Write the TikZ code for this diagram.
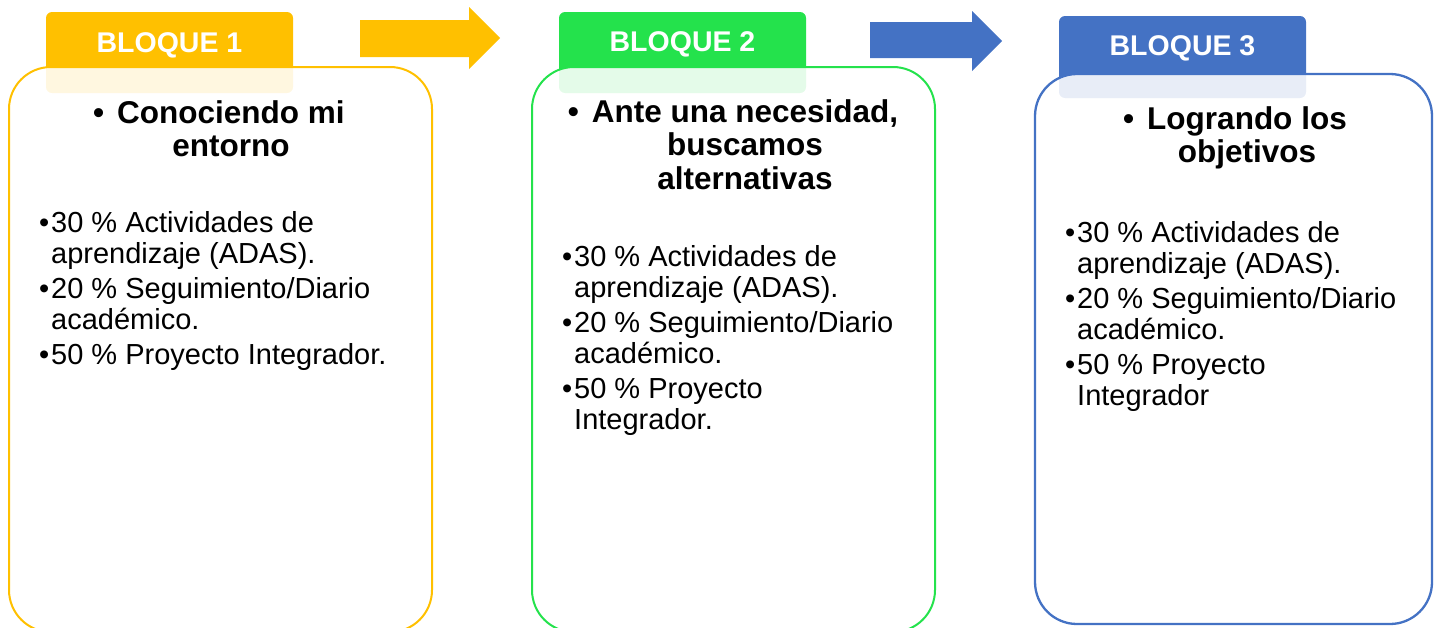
\documentclass[tikz,border=0pt]{standalone}
\usepackage{fontspec}
\setmainfont{Liberation Sans}
\usepackage{xcolor}
\definecolor{amarillo}{HTML}{FFC000}
\definecolor{verde}{HTML}{24E24C}
\definecolor{azul}{HTML}{4472C4}
\tikzset{
	pestana/.style={
		rounded corners=6pt
	},
	caja/.style={
		line width=2pt,
		rounded corners=42pt,
		fill=white,
		fill opacity=0.88
	},
	titulo/.style={anchor=base,text=white,inner sep=0,font=\fontsize{28.5}{30}\selectfont\bfseries},
	tema/.style={anchor=north,align=center,inner sep=0,font=\fontsize{31.5}{33.5}\selectfont\bfseries},
	lista/.style={anchor=north west,align=left,inner sep=0,font=\fontsize{29}{31}\selectfont}
}
\newcommand{\vineta}{\llap{\textbullet\hspace{2pt}}}
\newcommand{\vinetatema}{\llap{\textbullet\hspace{13pt}}}

\begin{document}
\begin{tikzpicture}[x=1pt,y=-1pt]
	\clip (0,0) rectangle (1437,627);

	% pestanas
	\fill[pestana,amarillo] (46,12) rectangle (293,93);
	\fill[pestana,verde] (559,12) rectangle (806,93);
	\fill[pestana,azul] (1059,16) rectangle (1306,98);

	% cajas
	\draw[caja,draw=amarillo] (9,67) rectangle (432,632);
	\draw[caja,draw=verde] (532,67) rectangle (935,632);
	\draw[caja,draw=azul,line width=2.3pt] (1035,74) rectangle (1432,624);

	% flechas
	\fill[amarillo] (360,20) -- (469,20) -- (469,7) -- (500,38) -- (469,69) -- (469,57) -- (360,57) -- cycle;
	\fill[azul] (870,22) -- (972,22) -- (972,11) -- (1002,41) -- (972,71) -- (972,58) -- (870,58) -- cycle;

	\node[titulo] (bloque1) at (169.5,52) {BLOQUE 1};
	\node[titulo] (bloque2) at (682.5,51) {BLOQUE 2};
	\node[titulo] (bloque3) at (1182.5,55) {BLOQUE 3};

	\node[tema] (tema1) at (231,100) {\vinetatema Conociendo mi\\entorno};
	\node[tema] (tema2) at (745,99) {\vinetatema Ante una necesidad,\\buscamos\\alternativas};
	\node[tema] (tema3) at (1247,106) {\vinetatema Logrando los\\objetivos};

	\node[lista] (lista1) at (51,211) {\vineta30 \% Actividades de\\aprendizaje (ADAS).\\[4pt]\vineta20 \% Seguimiento/Diario\\académico.\\[4pt]\vineta50 \% Proyecto Integrador.};
	\node[lista] (lista2) at (574,245) {\vineta30 \% Actividades de\\aprendizaje (ADAS).\\[4pt]\vineta20 \% Seguimiento/Diario\\académico.\\[4pt]\vineta50 \% Proyecto\\Integrador.};
	\node[lista] (lista3) at (1077,221) {\vineta30 \% Actividades de\\aprendizaje (ADAS).\\[4pt]\vineta20 \% Seguimiento/Diario\\académico.\\[4pt]\vineta50 \% Proyecto\\Integrador};

\end{tikzpicture}
\end{document}
